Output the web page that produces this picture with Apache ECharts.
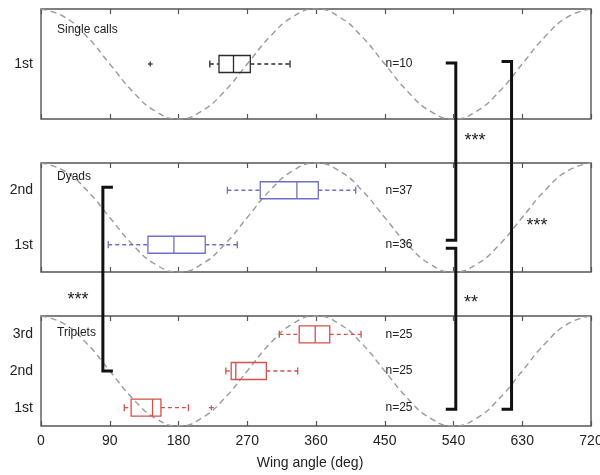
<!DOCTYPE html>
<html><head><meta charset="utf-8">
<script src="https://cdn.jsdelivr.net/npm/echarts@6/dist/echarts.min.js"></script>
<style>html,body{margin:0;padding:0;background:#fff}#c{width:600px;height:475px}</style>
</head><body><div id="c"></div>
<script>
// ---- data ----
const groupNames = ['Single calls', 'Dyads', 'Triplets'];
const catsSingle = ['1st'];
const catsDyads = ['1st', '2nd'];
const catsTriplets = ['1st', '2nd', '3rd'];
// [low whisker, q1, median, q3, high whisker]
const boxSingle = [[221, 233, 252, 274, 326]];
const boxDyads = [[88, 140, 174, 215, 257], [244, 287, 335, 363, 412]];
const boxTriplets = [[109, 118, 146, 157, 193], [242, 249, 255, 295, 336], [312, 338, 359, 378, 419]];
// outliers: [angle, category index]
const outSingle = [[143, 0]];
const outDyads = [];
const outTriplets = [[223, 0]];
const nSingle = [10];
const nDyads = [36, 37];
const nTriplets = [25, 25, 25];
// reference wave (normalised, read every 30 deg)
const waveX = [0,30,60,90,120,150,180,210,240,270,300,330,360,390,420,450,480,510,540,570,600,630,660,690,720];
const waveY = [1,0.93,0.75,0.5,0.25,0.07,0,0.07,0.25,0.5,0.75,0.93,1,0.93,0.75,0.5,0.25,0.07,0,0.07,0.25,0.5,0.75,0.93,1];
const xTicks = [0, 90, 180, 270, 360, 450, 540, 630, 720];
// significance brackets: x angle, from [panel, category] to [panel, category]
const brackets = [
  {x: 81, from: [1, 1], to: [2, 1], dir: 1, dy1: -3, dy2: 0},
  {x: 543, from: [0, 0], to: [1, 0], dir: -1, dy1: -1, dy2: -4.5},
  {x: 543, from: [1, 0], to: [2, 0], dir: -1, dy1: 3.5, dy2: 1.5},
  {x: 616, from: [0, 0], to: [2, 0], dir: -1, dy1: -2.5, dy2: 1.5}
];
const stars = [
  {text: '***', x: 78, y: 296},
  {text: '***', x: 475, y: 137},
  {text: '**', x: 471, y: 299},
  {text: '***', x: 537, y: 222}
];

const FONT = 'Liberation Sans, Arial, Helvetica, sans-serif';
const panels = [
  {name: groupNames[0], cats: catsSingle, box: boxSingle, out: outSingle, n: nSingle, color: '#2b2b2b', top: 9, height: 110, labelY: 31},
  {name: groupNames[1], cats: catsDyads, box: boxDyads, out: outDyads, n: nDyads, color: '#6d71c1', top: 163, height: 109, labelY: 178},
  {name: groupNames[2], cats: catsTriplets, box: boxTriplets, out: outTriplets, n: nTriplets, color: '#d4504b', top: 316, height: 110, labelY: 334}
];
const N_X = 451;

const chart = echarts.init(document.getElementById('c'), null, {renderer: 'canvas'});
const grid = [], xAxis = [], yAxis = [], series = [], graphic = [];
const boxSeriesIdx = [];

panels.forEach((p, i) => {
  grid.push({left: 41, right: 9, top: p.top, height: p.height, show: true,
    containLabel: false, outerBoundsMode: 'none',
    borderColor: '#555', borderWidth: 1.4, backgroundColor: 'transparent'});
  const xBase = {type: 'value', gridIndex: i, min: 0, max: 720, interval: 90,
    axisLine: {show: false}, splitLine: {show: false},
    axisTick: {inside: true, length: 5, lineStyle: {color: '#555', width: 1.2}}};
  xAxis.push(Object.assign({}, xBase, {position: 'bottom',
    axisLabel: {show: i === 2, fontSize: 14, color: '#222', fontFamily: FONT, margin: 8, hideOverlap: false}}));
  xAxis.push(Object.assign({}, xBase, {position: 'top', axisLabel: {show: false}}));
  const yBase = {type: 'category', gridIndex: i, data: p.cats, boundaryGap: true,
    axisLine: {show: false}, splitLine: {show: false},
    axisTick: {inside: true, alignWithLabel: true, length: 5, lineStyle: {color: '#555', width: 1.2}}};
  yAxis.push(Object.assign({}, yBase, {position: 'left',
    axisLabel: {fontSize: 14, color: '#222', fontFamily: FONT, margin: 8}}));
  yAxis.push(Object.assign({}, yBase, {position: 'right', axisLabel: {show: false}}));
  yAxis.push({type: 'value', gridIndex: i, min: 0, max: 1, show: false});

  series.push({type: 'line', xAxisIndex: 2 * i, yAxisIndex: 3 * i + 2,
    data: waveX.map((x, k) => [x, waveY[k]]), smooth: true, showSymbol: false, silent: true,
    lineStyle: {color: '#9a9a9a', width: 1.4, type: [6, 4]}, z: 1});

  const color = p.color;
  boxSeriesIdx[i] = series.length;
  series.push({type: 'custom', xAxisIndex: 2 * i, yAxisIndex: 3 * i, z: 3,
    data: p.box.map((b, k) => [k, b[0], b[1], b[2], b[3], b[4], p.n[k]]),
    encode: {x: [1, 2, 3, 4, 5], y: 0},
    renderItem: function (params, api) {
      const cat = api.value(0);
      const pt = v => api.coord([v, cat]);
      const lo = pt(api.value(1)), q1 = pt(api.value(2)), md = pt(api.value(3)),
            q3 = pt(api.value(4)), hi = pt(api.value(5));
      const cy = lo[1], h = 17, cap = 7;
      const solid = {stroke: color, lineWidth: 1.3, fill: null};
      const dashed = {stroke: color, lineWidth: 1.3, lineDash: [4, 3], fill: null};
      const nPos = pt(N_X);
      return {type: 'group', children: [
        {type: 'line', shape: {x1: lo[0], y1: cy, x2: q1[0], y2: cy}, style: dashed},
        {type: 'line', shape: {x1: q3[0], y1: cy, x2: hi[0], y2: cy}, style: dashed},
        {type: 'line', shape: {x1: lo[0], y1: cy - cap / 2, x2: lo[0], y2: cy + cap / 2}, style: solid},
        {type: 'line', shape: {x1: hi[0], y1: cy - cap / 2, x2: hi[0], y2: cy + cap / 2}, style: solid},
        {type: 'rect', shape: {x: q1[0], y: cy - h / 2, width: q3[0] - q1[0], height: h}, style: solid},
        {type: 'line', shape: {x1: md[0], y1: cy - h / 2, x2: md[0], y2: cy + h / 2}, style: solid},
        {type: 'text', style: {x: nPos[0], y: cy, text: 'n=' + api.value(6), fill: '#222',
          font: '12px ' + FONT, textAlign: 'left', textVerticalAlign: 'middle'}}
      ]};
    }});
  if (p.out.length) {
    series.push({type: 'custom', xAxisIndex: 2 * i, yAxisIndex: 3 * i, z: 3,
      data: p.out, encode: {x: 0, y: 1},
      renderItem: function (params, api) {
        const c = api.coord([api.value(0), api.value(1)]);
        const s = 2.5;
        const st = {stroke: color, lineWidth: 1.2};
        return {type: 'group', children: [
          {type: 'line', shape: {x1: c[0] - s, y1: c[1], x2: c[0] + s, y2: c[1]}, style: st},
          {type: 'line', shape: {x1: c[0], y1: c[1] - s, x2: c[0], y2: c[1] + s}, style: st}
        ]};
      }});
  }
  graphic.push({type: 'text', left: 57, top: p.labelY - 7, z: 10,
    style: {text: p.name, fill: '#222', font: '12px ' + FONT}});
});

graphic.push({type: 'text', x: 310, y: 463, z: 10,
  style: {text: 'Wing angle (deg)', fill: '#222', font: '14px ' + FONT, textAlign: 'center', textVerticalAlign: 'middle'}});

chart.setOption({animation: false, backgroundColor: '#fff', grid, xAxis, yAxis, series, graphic});

// brackets placed through the panels' own scales
const extra = [];
brackets.forEach(b => {
  const p1 = chart.convertToPixel({seriesIndex: boxSeriesIdx[b.from[0]]}, [b.x, b.from[1]]);
  const p2 = chart.convertToPixel({seriesIndex: boxSeriesIdx[b.to[0]]}, [b.x, b.to[1]]);
  const x = p1[0], y1 = p1[1] + b.dy1, y2 = p2[1] + b.dy2;
  extra.push({type: 'polyline', z: 20,
    shape: {points: [[x + b.dir * 10, y1], [x, y1], [x, y2], [x + b.dir * 10, y2]]},
    style: {stroke: '#111', lineWidth: 3, fill: null, lineJoin: 'miter'}});
});
stars.forEach(s => {
  extra.push({type: 'text', x: s.x, y: s.y + 4, z: 20,
    style: {text: s.text, fill: '#222', font: '18px ' + FONT, textAlign: 'center', textVerticalAlign: 'middle'}});
});
chart.setOption({graphic: graphic.concat(extra)});
</script>
</body></html>
